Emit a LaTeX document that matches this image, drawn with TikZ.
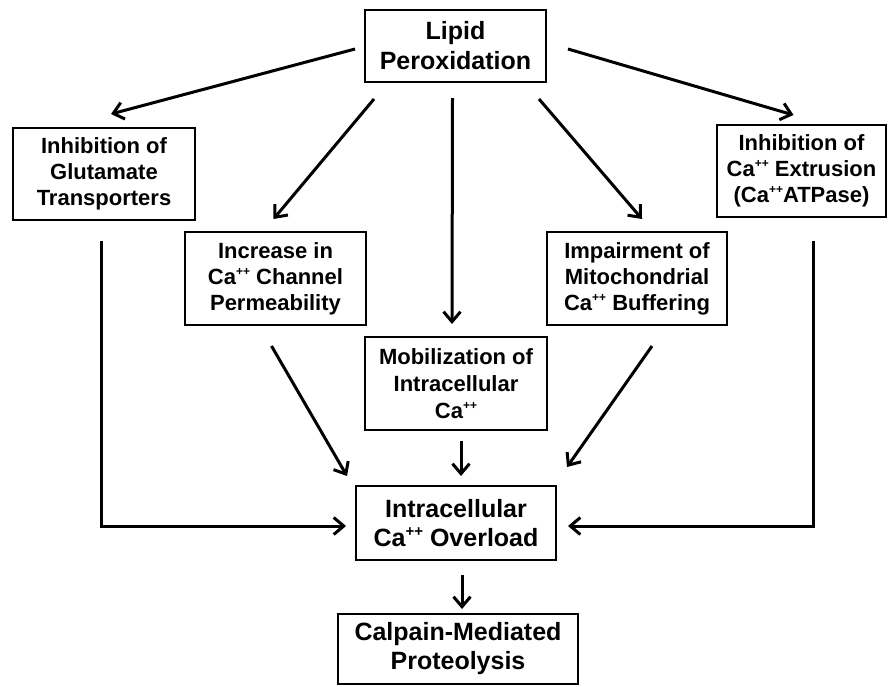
\documentclass[tikz,border=0pt]{standalone}
\usepackage{fontspec}
\setmainfont{Liberation Sans}
\usetikzlibrary{arrows.meta, positioning}
\newcommand{\capp}[1][12]{Ca\raisebox{0.75ex}{\fontsize{#1}{#1}\selectfont ++}}
\tikzset{
	sidenode/.style={
			draw=black,
			line width=2pt,
			align=center,
			inner sep=0pt,
			font=\fontsize{22}{26}\selectfont\bfseries
		},
	mainnode/.style={
			sidenode,
			font=\fontsize{25}{29}\selectfont\bfseries
		},
	arrowline/.style={
			line width=3pt,
			-{Straight Barb[length=10pt, width=17pt]}
		}
}

\begin{document}
\begin{tikzpicture}[x=1pt, y=-1pt]
\useasboundingbox (0,0) rectangle (888,686);
\node[mainnode, minimum width=181pt, minimum height=72pt, font=\fontsize{25}{30}\selectfont\bfseries] (lipid) at (455.5,46) {Lipid\\Peroxidation};
\node[sidenode, minimum width=182pt, minimum height=92pt] (glut) at (104,174) {Inhibition of\\Glutamate\\Transporters};
\node[sidenode, minimum width=169pt, minimum height=92pt] (extr) at (801.5,171) {Inhibition of\\\capp{} Extrusion\\(\capp{}ATPase)};
\node[sidenode, minimum width=181pt, minimum height=93pt] (incr) at (275.5,278.5) {Increase in\\\capp{} Channel\\Permeability};
\node[sidenode, minimum width=180pt, minimum height=93pt] (impair) at (637,278.5) {Impairment of\\Mitochondrial\\\capp{} Buffering};
\node[sidenode, minimum width=182pt, minimum height=93pt, font=\fontsize{22}{27}\selectfont\bfseries] (mobil) at (456,383.5) {Mobilization of\\Intracellular\\\capp};
\node[mainnode, minimum width=200pt, minimum height=74pt] (overload) at (456,523) {Intracellular\\\capp[15] Overload};
\node[mainnode, minimum width=240pt, minimum height=70pt] (calpain) at (458,649) {Calpain-Mediated\\Proteolysis};

% from lipid peroxidation
\draw[arrowline] ([shift={(-9,3)}]lipid.west) -- ([shift={(7,-13)}]glut.north);
\draw[arrowline] ([shift={(10,16)}]lipid.south west) -- ([shift={(-2,-12)}]incr.north);
\draw[arrowline] ([shift={(-3,15)}]lipid.south) -- ([shift={(-4,-12)}]mobil.north);
\draw[arrowline] ([shift={(-8,16)}]lipid.south east) -- ([shift={(5,-12)}]impair.north);
\draw[arrowline] ([shift={(21,3)}]lipid.east) -- ([shift={(-8,-9)}]extr.north);

% into the overload
\draw[arrowline] ([shift={(-3,20)}]glut.south) |- ([shift={(-9,3)}]overload.west);
\draw[arrowline] ([shift={(11.5,23)}]extr.south) |- ([shift={(11,3)}]overload.east);
\draw[arrowline] ([shift={(-4,20)}]incr.south) -- ([shift={(-8,-9)}]overload.north west);
\draw[arrowline] ([shift={(15,20)}]impair.south) -- ([shift={(10,-18)}]overload.north east);
\draw[arrowline] ([shift={(5,10)}]mobil.south) -- ([shift={(5,-9)}]overload.north);

\draw[arrowline] ([shift={(6,14)}]overload.south) -- ([shift={(4,-4)}]calpain.north);
\end{tikzpicture}
\end{document}
